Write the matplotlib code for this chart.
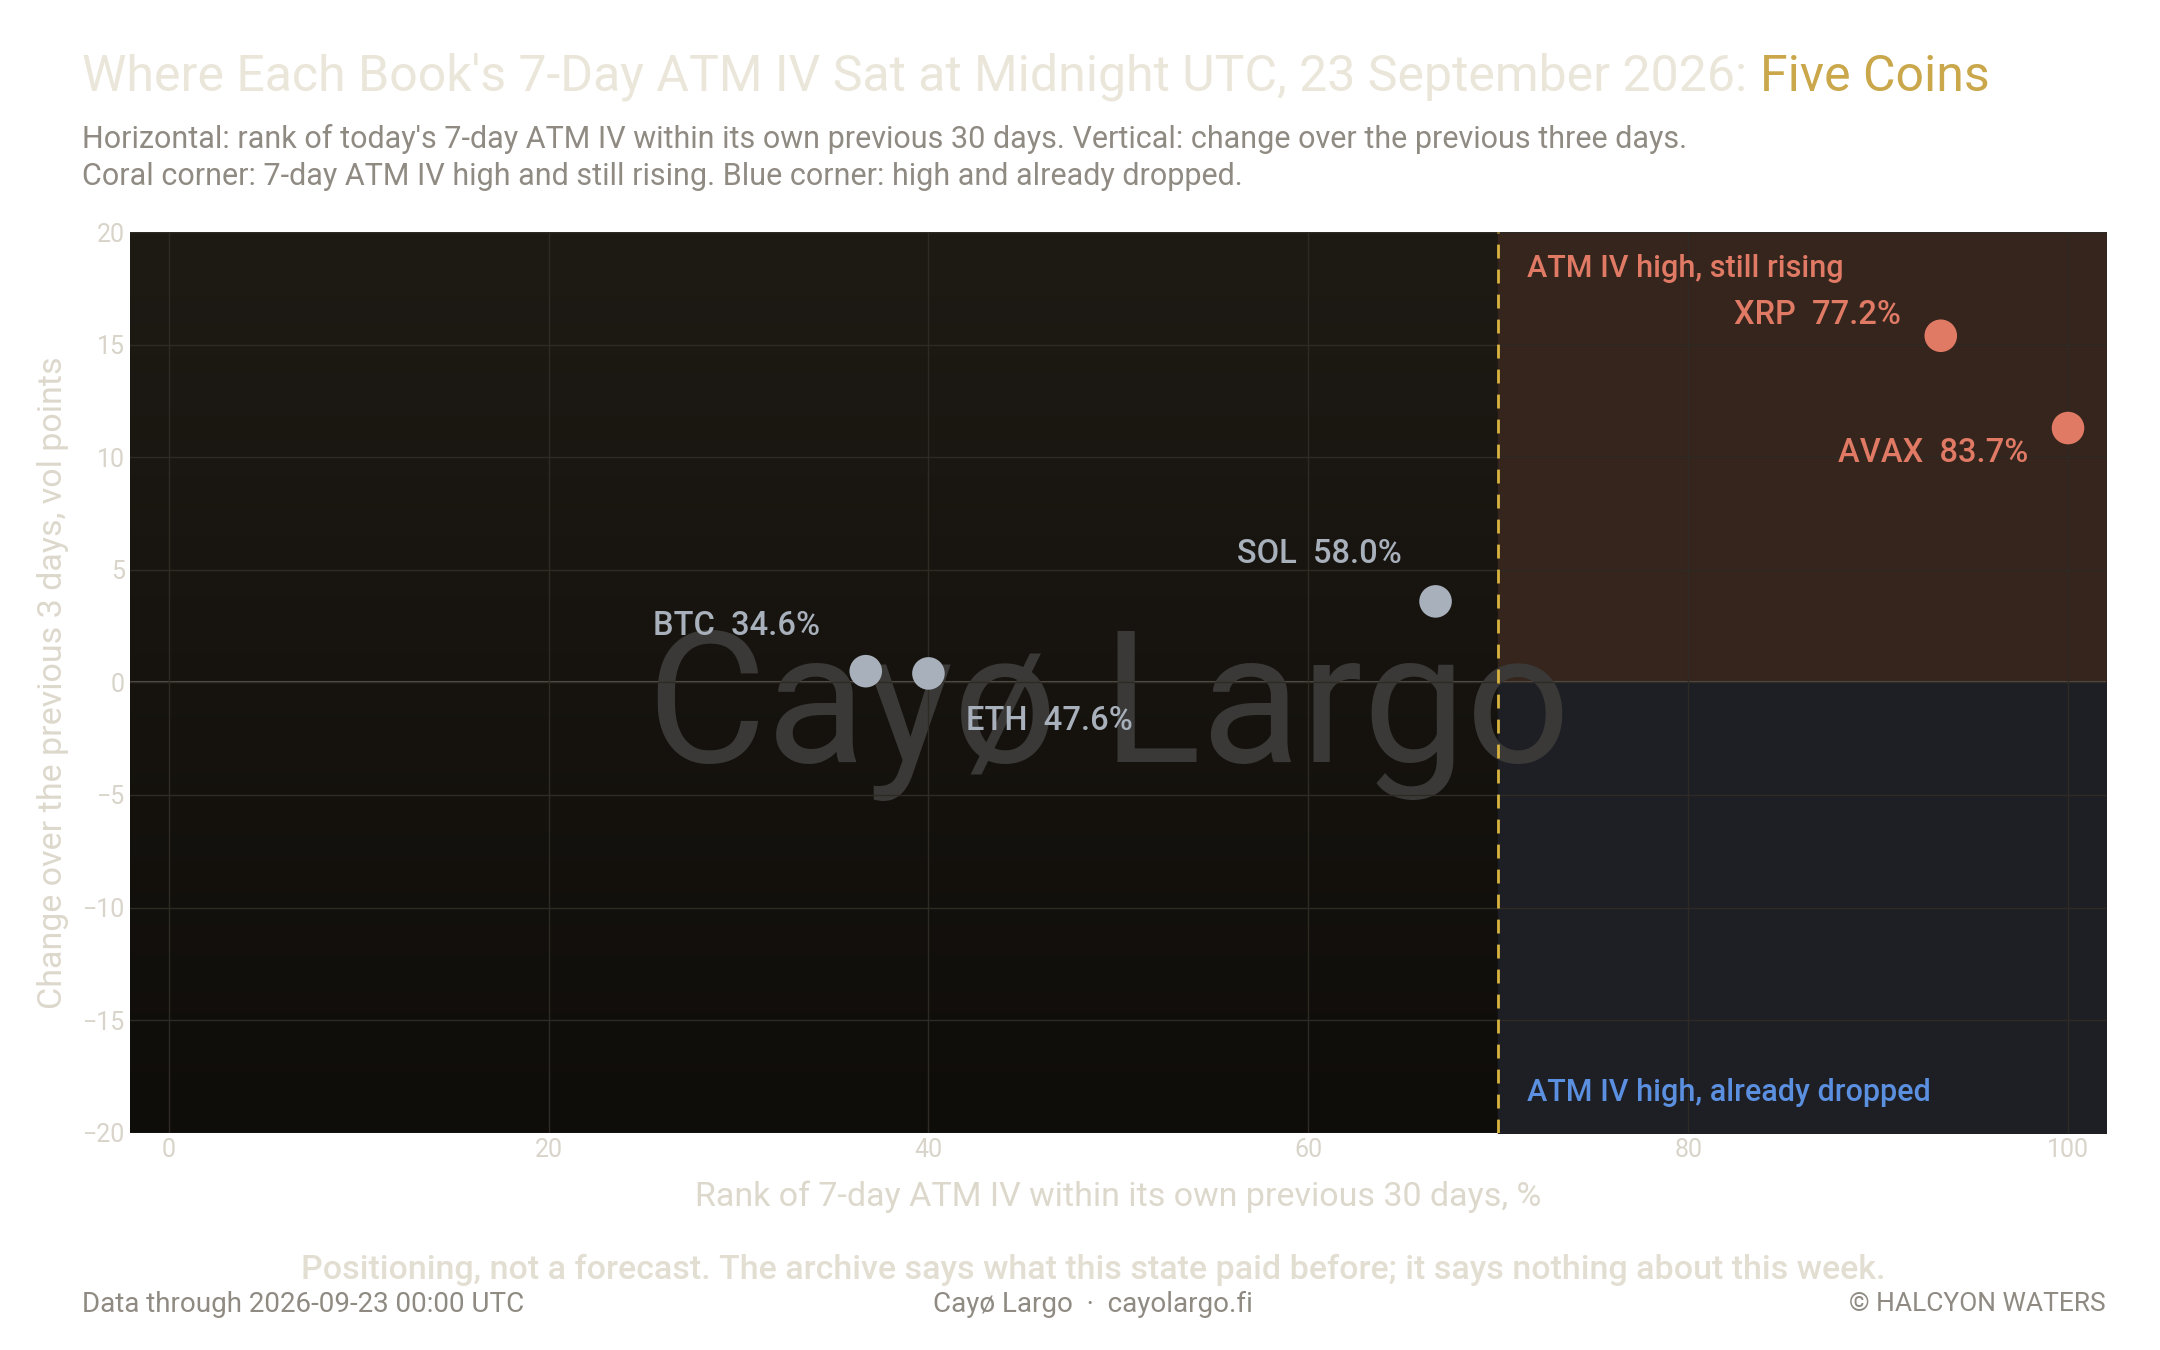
import matplotlib
matplotlib.use("Agg")
import matplotlib.pyplot as plt
import numpy as np
from matplotlib.colors import LinearSegmentedColormap

coins = ["BTC", "ETH", "SOL", "XRP", "AVAX"]
rank = [36.7, 40.0, 66.7, 93.3, 100.0]
change = [0.5, 0.4, 3.6, 15.4, 11.3]
iv = [34.6, 47.6, 58.0, 77.2, 83.7]
threshold = 70

plt.rcParams['font.family'] = ['Roboto', 'DejaVu Sans']
fig = plt.figure(figsize=(21.6, 13.5), dpi=100)
fig.patch.set_facecolor('white')
ax = fig.add_axes([0.060, 0.161, 0.915, 0.667])
ax.set_xlim(-2.06, 102)
ax.set_ylim(-20, 20)

grad = np.linspace(0, 1, 256).reshape(-1, 1)
cm = LinearSegmentedColormap.from_list('bg', ['#0f0d0a', '#1e1a14'])
ax.imshow(grad, extent=[-2.06, 102, -20, 20], aspect='auto', cmap=cm, origin='lower', zorder=0)
ax.fill_between([threshold, 102], 0, 20, color='#35251d', zorder=1)
ax.fill_between([threshold, 102], -20, 0, color='#1d1f25', zorder=1)

ax.grid(True, color='#2e2a24', lw=1, zorder=1.5)
ax.set_axisbelow(False)
ax.axhline(0, color='#55504a', lw=1.5, zorder=2)
ax.axvline(threshold, color='#d9b440', lw=2, ls=(0, (5, 4)), zorder=3)

ax.text(49.5, -1.4, "Cayø Largo", fontsize=132, color='#3a3937', ha='center', va='center', zorder=2)

for c, x, y, v in zip(coins, rank, change, iv):
    col = '#e07a65' if x >= threshold else '#a8b0bb'
    ax.scatter(x, y, s=550, color=col, zorder=5, edgecolors='none')
lab = {"BTC": (25.5, 2.5, 'left'), "ETH": (42, -1.7, 'left'), "SOL": (64.9, 5.7, 'right'),
       "XRP": (91.2, 16.3, 'right'), "AVAX": (97.9, 10.2, 'right')}
for c, x, y, v in zip(coins, rank, change, iv):
    col = '#e07a65' if x >= threshold else '#a8b0bb'
    lx, ly, ha = lab[c]
    ax.text(lx, ly, f"{c}  {v:.1f}%", fontsize=23.5, color=col, ha=ha, va='center',
            fontweight='medium', zorder=6)

ax.text(71.5, 18.4, "ATM IV high, still rising", fontsize=22, color='#e07a65', va='center',
        fontweight='medium', zorder=6)
ax.text(71.5, -18.2, "ATM IV high, already dropped", fontsize=22, color='#5b8fe0', va='center',
        fontweight='medium', zorder=6)

ax.set_xticks([0, 20, 40, 60, 80, 100])
ax.set_yticks(range(-20, 21, 5))
ax.set_yticklabels([str(v).replace('-', '−') for v in range(-20, 21, 5)])
ax.tick_params(colors='#d8d4ca', labelsize=18, length=0, labelcolor='#d8d4ca')
for s in ax.spines.values():
    s.set_visible(False)
ax.set_xlabel("Rank of 7-day ATM IV within its own previous 30 days, %", fontsize=24.5, color='#ddd8cc', labelpad=14)
ax.set_ylabel("Change over the previous 3 days, vol points", fontsize=24.5, color='#ddd8cc', labelpad=10)

t = fig.text(0.038, 0.943, "Where Each Book's 7-Day ATM IV Sat at Midnight UTC, 23 September 2026: ",
             fontsize=36, color='#ebe6da', va='center')
fig.canvas.draw()
bb = t.get_window_extent()
fig.text(bb.x1 / fig.bbox.width, 0.943, "Five Coins", fontsize=36, color='#c9a74a', va='center')
fig.text(0.038, 0.897, "Horizontal: rank of today's 7-day ATM IV within its own previous 30 days. Vertical: change over the previous three days.",
         fontsize=22, color='#8f8a82', va='center')
fig.text(0.038, 0.869, "Coral corner: 7-day ATM IV high and still rising. Blue corner: high and already dropped.",
         fontsize=22, color='#8f8a82', va='center')
fig.text(0.506, 0.059, "Positioning, not a forecast. The archive says what this state paid before; it says nothing about this week.",
         fontsize=24.5, color='#e3ded2', ha='center', va='center', fontweight='medium')
fig.text(0.038, 0.034, "Data through 2026-09-23 00:00 UTC", fontsize=20, color='#8f8a82', va='center')
fig.text(0.506, 0.034, "Cayø Largo  ·  cayolargo.fi", fontsize=20, color='#8f8a82', ha='center', va='center')
fig.text(0.975, 0.034, "© HALCYON WATERS", fontsize=19, color='#8f8a82', ha='right', va='center')

fig.savefig("out.png", dpi=100, facecolor='white')
